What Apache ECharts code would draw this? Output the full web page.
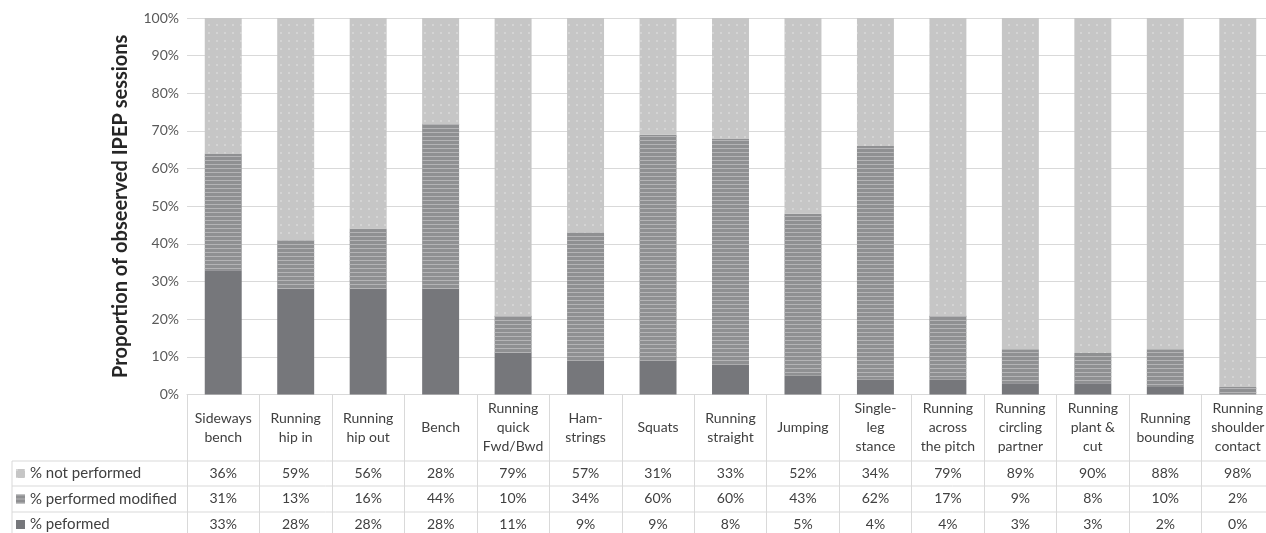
<!DOCTYPE html>
<html>
<head>
<meta charset="utf-8">
<script src="https://cdn.jsdelivr.net/npm/echarts@6/dist/echarts.min.js"></script>
<style>
  html, body { margin: 0; padding: 0; background: #fff; }
  #chartDiv { width: 1266px; height: 533px; }
</style>
</head>
<body>
<div id="chartDiv"></div>
<script>
var categories = [
    'Sideways\nbench', 'Running\nhip in', 'Running\nhip out', 'Bench',
    'Running\nquick\nFwd/Bwd', 'Ham-\nstrings', 'Squats', 'Running\nstraight',
    'Jumping', 'Single-\nleg\nstance', 'Running\nacross\nthe pitch',
    'Running\ncircling\npartner', 'Running\nplant &\ncut', 'Running\nbounding',
    'Running\nshoulder\ncontact'
];
var notPerformed = [36, 59, 56, 28, 79, 57, 31, 33, 52, 34, 79, 89, 90, 88, 98];
var performedModified = [31, 13, 16, 44, 10, 34, 60, 60, 43, 62, 17, 9, 8, 10, 2];
var performed = [33, 28, 28, 28, 11, 9, 9, 8, 5, 4, 4, 3, 3, 2, 0];
var yTicks = [0, 10, 20, 30, 40, 50, 60, 70, 80, 90, 100];

var fontName = 'Lato';
var textColor = '#404040';
var lineColor = '#d9d9d9';

// one extra x axis per table row, only its labels are shown
function tableRow(values, margin) {
    return {
        type: 'category',
        data: categories,
        position: 'bottom',
        axisLine: {show: false},
        axisTick: {show: false},
        splitLine: {show: false},
        axisLabel: {
            interval: 0,
            margin: margin,
            verticalAlign: 'middle',
            fontFamily: fontName,
            fontSize: 14,
            color: textColor,
            formatter: function (v, i) { return values[i] + '%'; }
        }
    };
}

var option = {
    animation: false,
    grid: {
        left: 187,
        width: 1087,
        top: 18,
        bottom: 138.5,
        outerBoundsMode: 'none',
        containLabel: false
    },
    legend: {
        orient: 'vertical',
        left: 16,
        top: 465.5,
        padding: 0,
        itemGap: 9.5,
        itemWidth: 9,
        itemHeight: 9,
        icon: 'rect',
        selectedMode: false,
        textStyle: {fontFamily: fontName, fontSize: 15, color: textColor, lineHeight: 16},
        data: ['% not performed', '% performed modified', '% peformed']
    },
    xAxis: [
        {
            type: 'category',
            data: categories,
            axisLine: {show: true, lineStyle: {color: lineColor}},
            axisTick: {show: true, length: 140, lineStyle: {color: lineColor}},
            splitLine: {show: false},
            axisLabel: {
                interval: 0,
                margin: 33,
                verticalAlign: 'middle',
                fontFamily: fontName,
                fontSize: 14,
                lineHeight: 19,
                color: textColor
            }
        },
        tableRow(notPerformed, 78.5),
        tableRow(performedModified, 104),
        tableRow(performed, 129.5)
    ],
    yAxis: {
        type: 'value',
        min: 0,
        max: 100,
        interval: 10,
        name: 'Proportion of obseerved IPEP sessions',
        nameLocation: 'middle',
        nameGap: 56.5,
        nameTextStyle: {fontFamily: fontName, fontSize: 20, fontWeight: 'bold', color: '#262626'},
        axisLine: {show: false},
        axisTick: {show: false},
        splitLine: {lineStyle: {color: lineColor}},
        axisLabel: {
            margin: 8,
            fontFamily: fontName,
            fontSize: 14,
            color: '#595959',
            formatter: function (v) { return yTicks.indexOf(v) >= 0 ? v + '%' : ''; }
        }
    },
    series: [
        {
            name: '% peformed',
            type: 'bar',
            stack: 'all',
            barWidth: '51%',
            data: performed,
            itemStyle: {color: '#76777b'}
        },
        {
            name: '% performed modified',
            type: 'bar',
            stack: 'all',
            barWidth: '51%',
            data: performedModified,
            itemStyle: {
                color: '#8f9092',
                decal: {
                    symbol: 'rect',
                    symbolSize: 1,
                    dashArrayX: [1, 0],
                    dashArrayY: [1, 3],
                    rotation: 0,
                    color: '#b4b4b6'
                }
            }
        },
        {
            name: '% not performed',
            type: 'bar',
            stack: 'all',
            barWidth: '51%',
            data: notPerformed,
            itemStyle: {
                color: '#c6c6c6',
                decal: {
                    symbol: 'rect',
                    symbolSize: 0.6,
                    dashArrayX: [2, 6],
                    dashArrayY: [2, 6],
                    rotation: 0,
                    color: '#f4f4f4'
                }
            }
        }
    ],
    // table rules and the legend column border
    graphic: [
        {type: 'line', shape: {x1: 12, y1: 461, x2: 1266, y2: 461}, style: {stroke: lineColor}},
        {type: 'line', shape: {x1: 12, y1: 486, x2: 1266, y2: 486}, style: {stroke: lineColor}},
        {type: 'line', shape: {x1: 12, y1: 512, x2: 1266, y2: 512}, style: {stroke: lineColor}},
        {type: 'line', shape: {x1: 12, y1: 461, x2: 12, y2: 533}, style: {stroke: lineColor}}
    ]
};

var chart = echarts.init(document.getElementById('chartDiv'));
chart.setOption(option);
</script>
</body>
</html>
